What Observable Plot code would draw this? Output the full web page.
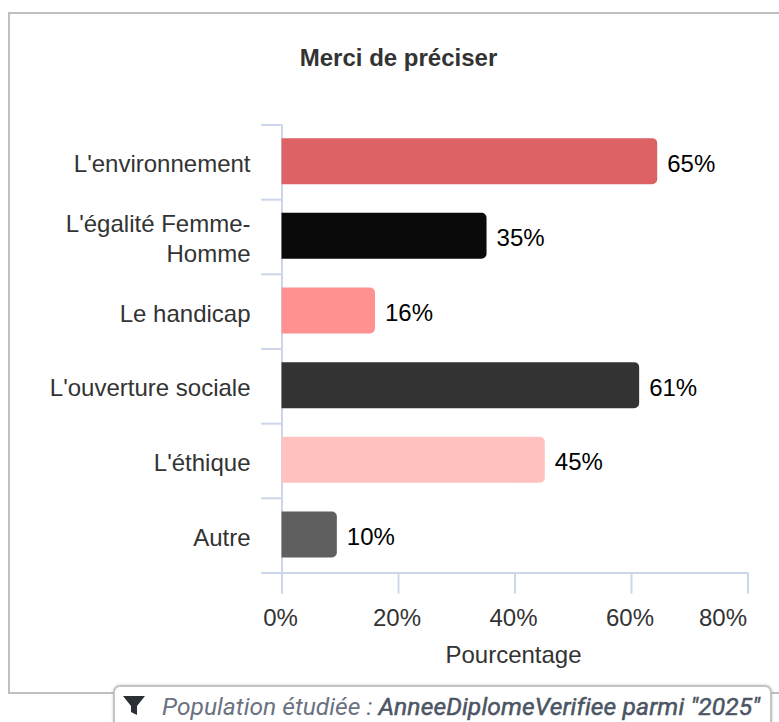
<!DOCTYPE html>
<html><head><meta charset="utf-8">
<script src="https://cdn.jsdelivr.net/npm/d3@7"></script>
<script src="https://cdn.jsdelivr.net/npm/@observablehq/plot@0.6"></script>
<style>
html,body{margin:0;padding:0;background:#fff;width:779px;height:722px;overflow:hidden}
#frame{position:absolute;left:8px;top:12px;width:800px;height:678px;border:2px solid #bfbfbf;box-sizing:content-box}
#chart{position:absolute;left:0;top:0}
#title{position:absolute;left:0;width:797px;top:44px;text-align:center;font:bold 24px "Liberation Sans",Arial,sans-serif;color:#333;line-height:28px}
#chip{position:absolute;left:113px;top:685px;width:659px;height:45px;box-sizing:border-box;background:#fff;border:2px solid #c4c4c4;border-radius:7px;box-shadow:0 0 3px rgba(0,0,0,.2);font:italic 24.6px Roboto,sans-serif;color:#6b7280;white-space:nowrap;padding:3px 0 0 47px;line-height:34px}
#chip b{font-weight:400;color:#4b5563;-webkit-text-stroke:0.5px #4b5563;letter-spacing:0.12px}
#chip svg{position:absolute;left:8px;top:9px}
</style></head><body>
<div id="frame"></div>
<div id="title">Merci de préciser</div>
<div id="chart"></div>
<div id="chip"><svg width="22" height="20" viewBox="0 0 22 20"><path d="M0 0H22L14 10V19L8 16V10Z" fill="#2b2f36"/></svg>Population étudiée : <b>AnneeDiplomeVerifiee parmi "2025"</b></div>
<script>
const categories = ["L'environnement","L'égalité Femme-\nHomme","Le handicap","L'ouverture sociale","L'éthique","Autre"];
const values = [64.5,35.2,16.05,61.4,45.2,9.5];
const labels = ["65%","35%","16%","61%","45%","10%"];
const colors = ["#dd6266","#0a0a0a","#ff9191","#333333","#ffc2bf","#5f5f5f"];
const xTicks = [0,20,40,60,80];
const rows = categories.map((c,i)=>({c,v:values[i],l:labels[i],k:colors[i]}));
const axisColor = "#ccd6eb";
const font = '"Liberation Sans",Arial,sans-serif';
const stub = -3.5;
const plot = Plot.plot({
  width:779,height:722,
  marginLeft:281.5,marginRight:31.5,marginTop:124.5,marginBottom:149.5,
  style:{background:"transparent",fontFamily:font,fontSize:"24px",color:"#333",overflow:"visible"},
  x:{domain:[0,80],axis:null},
  y:{domain:categories,axis:null,paddingInner:0.384,paddingOuter:0.192,round:false},
  color:{type:"identity"},
  marks:[
    Plot.ruleY(categories,{y:d=>d,x1:stub,x2:0,dy:-37.33,stroke:axisColor,strokeWidth:2}),
    Plot.ruleY(categories.slice(-1),{y:d=>d,x1:stub,x2:80,dy:37.33,stroke:axisColor,strokeWidth:2}),
    Plot.ruleX([0],{stroke:axisColor,strokeWidth:2,insetBottom:-21}),
    Plot.ruleX(xTicks,{stroke:axisColor,strokeWidth:2,insetTop:448,insetBottom:-21}),
    Plot.barX(rows,{x:"v",y:"c",fill:"k",rx2:5,dy:-0.7}),
    Plot.text(rows,{x:"v",y:"c",text:"l",textAnchor:"start",dx:9.5,dy:1.5,fill:"#000",fontSize:24}),
    Plot.text(rows,{x:0,y:"c",text:"c",textAnchor:"end",dx:-31.5,dy:0.3,fill:"#333",fontSize:24,lineHeight:1.27}),
    Plot.text(xTicks.slice(0,-1),{x:d=>d,frameAnchor:"bottom",text:d=>d+"%",dx:-1.5,dy:53,fill:"#333",fontSize:24}),
    Plot.text(xTicks.slice(-1),{x:d=>d,frameAnchor:"bottom",text:d=>d+"%",textAnchor:"end",dx:-1,dy:53,fill:"#333",fontSize:24}),
    Plot.text(["Pourcentage"],{x:40,frameAnchor:"bottom",dx:-1.5,dy:90,fill:"#333",fontSize:24})
  ]
});
document.getElementById("chart").appendChild(plot);
</script>
</body></html>
